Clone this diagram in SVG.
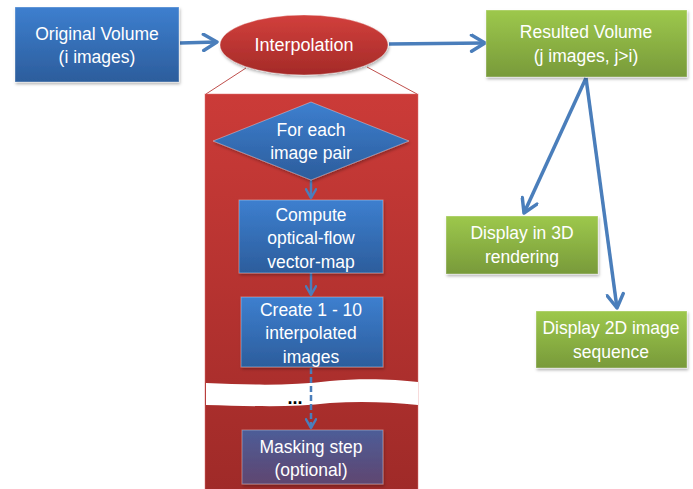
<svg xmlns="http://www.w3.org/2000/svg" width="693" height="489" viewBox="0 0 693 489">
<defs>
<linearGradient id="gBlue" x1="0" y1="0" x2="0" y2="1"><stop offset="0" stop-color="#3d7fcf"/><stop offset="1" stop-color="#2c5d9c"/></linearGradient>
<linearGradient id="gGreen" x1="0" y1="0" x2="0" y2="1"><stop offset="0" stop-color="#9dc84c"/><stop offset="1" stop-color="#789a3a"/></linearGradient>
<linearGradient id="gRed" x1="0" y1="0" x2="0" y2="1"><stop offset="0" stop-color="#d2403c"/><stop offset="1" stop-color="#a42a28"/></linearGradient>
<linearGradient id="gPanel" x1="0" y1="0" x2="0" y2="1"><stop offset="0" stop-color="#cb3b38"/><stop offset="1" stop-color="#9f2a28"/></linearGradient>
<linearGradient id="gPurple" x1="0" y1="0" x2="0" y2="1"><stop offset="0" stop-color="#4d5d98"/><stop offset="1" stop-color="#5f4670"/></linearGradient>
<filter id="sh" x="-10%" y="-10%" width="130%" height="130%"><feDropShadow dx="1" dy="2" stdDeviation="1.5" flood-color="#000" flood-opacity="0.3"/></filter>
<marker id="ah" viewBox="0 0 10 10" refX="8.5" refY="5" markerWidth="5.5" markerHeight="5.5" orient="auto" markerUnits="strokeWidth"><path d="M1.5,0.8 L8.5,5 L1.5,9.2" fill="none" stroke="#4a7ebb" stroke-width="1.8" stroke-linecap="round" stroke-linejoin="round"/></marker>
<marker id="ahs" viewBox="0 0 10 10" refX="8" refY="5" markerWidth="5" markerHeight="5" orient="auto" markerUnits="strokeWidth"><path d="M1,1 L8,5 L1,9" fill="none" stroke="#4a7ebb" stroke-width="2" stroke-linecap="round" stroke-linejoin="round"/></marker>
</defs>
<style>
text{font-family:"Liberation Sans",Arial,sans-serif;font-size:17.5px;fill:#fff;text-anchor:middle;dominant-baseline:central}
.box{stroke:#ffffff;stroke-opacity:0.35;stroke-width:1;filter:url(#sh)}
.con{fill:none;stroke:#4a7ebb;stroke-width:3.5}
.ins{fill:none;stroke:#4a7ebb;stroke-width:2.5}
</style>
<rect width="693" height="489" fill="#ffffff"/>
<g id="panel">
<line x1="246" y1="68" x2="206" y2="94" stroke="#c0504d" stroke-width="1"/>
<line x1="367" y1="67" x2="417" y2="94" stroke="#c0504d" stroke-width="1"/>
<rect x="205" y="94" width="213" height="400" fill="url(#gPanel)" stroke="#e07070" stroke-opacity="0.5"/>
<path d="M206,383 C250,385 290,386 330,381 C360,378 395,379 418,382 L418,405 C390,402 360,401 330,403 C290,408 250,406 206,405 Z" fill="#ffffff"/>
<text x="295" y="398" style="fill:#000;font-size:18px;font-weight:bold">...</text>
</g>
<g id="connectors">
<line class="con" x1="180" y1="43" x2="217" y2="42" marker-end="url(#ah)"/>
<line class="con" x1="389" y1="44" x2="485" y2="43" marker-end="url(#ah)"/>
<line class="con" x1="586" y1="78" x2="524" y2="213" marker-end="url(#ah)"/>
<line class="con" x1="586" y1="78" x2="617" y2="308" marker-end="url(#ah)"/>
<line class="ins" x1="311" y1="180" x2="311" y2="198" marker-end="url(#ahs)"/>
<line class="ins" x1="311" y1="273" x2="311" y2="295" marker-end="url(#ahs)"/>
<line class="ins" x1="311" y1="368" x2="311" y2="428" stroke-dasharray="6 3" marker-end="url(#ahs)"/>
</g>
<g id="original">
<rect class="box" x="15" y="7" width="164" height="75" fill="url(#gBlue)"/>
<text x="97" y="34">Original Volume</text>
<text x="97" y="57">(i images)</text>
</g>
<g id="interpolation">
<ellipse class="box" cx="304" cy="45" rx="84" ry="30" fill="url(#gRed)"/>
<text x="304" y="45" style="font-size:18px">Interpolation</text>
</g>
<g id="resulted">
<rect class="box" x="486" y="10" width="201" height="67" fill="url(#gGreen)"/>
<text x="586" y="32">Resulted Volume</text>
<text x="586" y="56">(j images, j&gt;i)</text>
</g>
<g id="foreach">
<polygon class="box" points="311,102 409,141 311,180 213,141" fill="url(#gBlue)"/>
<text x="311" y="130">For each</text>
<text x="311" y="153">image pair</text>
</g>
<g id="compute">
<rect class="box" x="239" y="200" width="144" height="73" fill="url(#gBlue)"/>
<text x="311" y="215">Compute</text>
<text x="311" y="238">optical-flow</text>
<text x="311" y="262">vector-map</text>
</g>
<g id="create">
<rect class="box" x="241" y="297" width="142" height="70" fill="url(#gBlue)"/>
<text x="311" y="310">Create 1 - 10</text>
<text x="311" y="333">interpolated</text>
<text x="311" y="357">images</text>
</g>
<g id="masking">
<rect class="box" x="242" y="430" width="141" height="54" fill="url(#gPurple)"/>
<text x="311" y="447">Masking step</text>
<text x="311" y="470">(optional)</text>
</g>
<g id="display3d">
<rect class="box" x="446" y="216" width="152" height="58" fill="url(#gGreen)"/>
<text x="522" y="233">Display in 3D</text>
<text x="522" y="257">rendering</text>
</g>
<g id="display2d">
<rect class="box" x="536" y="311" width="151" height="57" fill="url(#gGreen)"/>
<text x="611" y="328">Display 2D image</text>
<text x="611" y="352">sequence</text>
</g>
</svg>
